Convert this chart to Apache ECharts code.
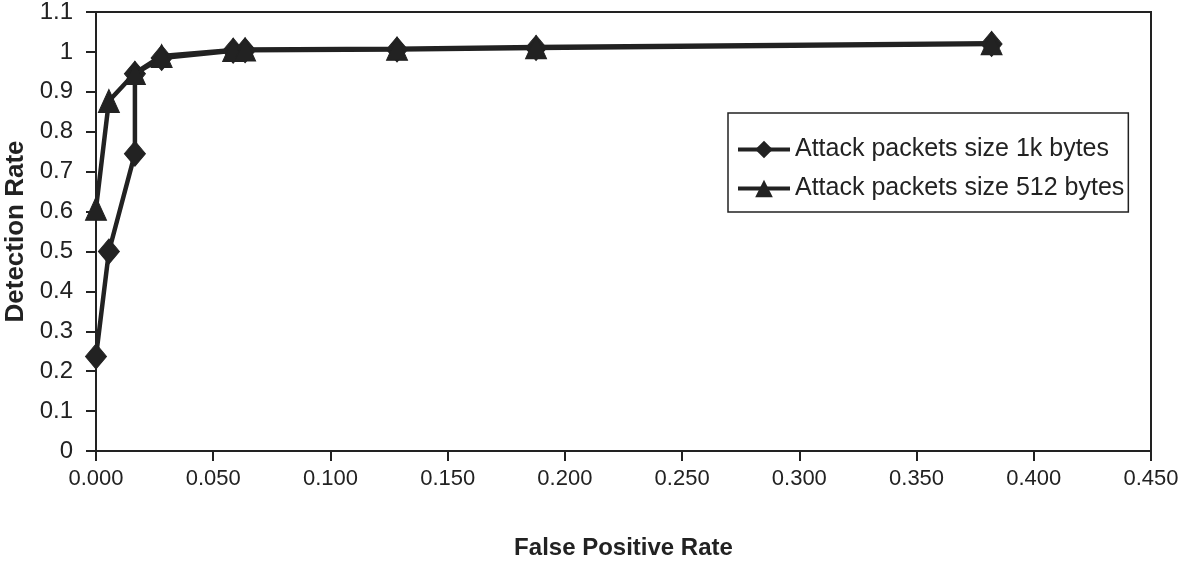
<!DOCTYPE html>
<html>
<head>
<meta charset="utf-8">
<script src="https://cdn.jsdelivr.net/npm/echarts@6/dist/echarts.min.js"></script>
<style>
html,body{margin:0;padding:0;background:#fff;}
#chart{width:1191px;height:563px;}
</style>
</head>
<body>
<div id="chart"></div>
<script>
// Data
const seriesNames = ['Attack packets size 1k bytes', 'Attack packets size 512 bytes'];
const fpr1k = [0.000, 0.0055, 0.0166, 0.0166, 0.028, 0.0585, 0.0636, 0.1284, 0.1877, 0.382];
const det1k = [0.237, 0.500, 0.745, 0.945, 0.985, 1.003, 1.004, 1.006, 1.010, 1.020];
const fpr512 = [0.000, 0.0055, 0.0166, 0.028, 0.0585, 0.0636, 0.1284, 0.1877, 0.382];
const det512 = [0.607, 0.877, 0.947, 0.990, 1.005, 1.006, 1.008, 1.012, 1.022];

const pairs = (xs, ys) => xs.map((x, i) => [x, ys[i]]);
const ink = '#222';

const chart = echarts.init(document.getElementById('chart'));
chart.setOption({
  animation: false,
  backgroundColor: '#fff',
  grid: {
    left: 96, right: 40, top: 12, bottom: 112,
    outerBoundsMode: 'none', containLabel: false,
    show: true, borderColor: ink, borderWidth: 2, backgroundColor: 'transparent'
  },
  legend: {
    left: 728, top: 113,
    orient: 'vertical',
    itemWidth: 52, itemHeight: 22, itemGap: 14,
    padding: [24, 4, 11, 8],
    borderColor: ink, borderWidth: 1.5,
    lineStyle: { width: 4, color: ink },
    textStyle: { fontFamily: 'Liberation Sans, Arial, sans-serif', fontSize: 25, color: ink },
    data: seriesNames
  },
  xAxis: {
    type: 'value', min: 0, max: 0.45, interval: 0.05,
    name: 'False Positive Rate', nameLocation: 'middle', nameGap: 85,
    nameTextStyle: { fontFamily: 'Liberation Sans, Arial, sans-serif', fontWeight: 'bold', fontSize: 24, color: ink },
    axisLine: { show: true, lineStyle: { color: ink, width: 2 } },
    axisTick: { show: true, length: 10, lineStyle: { color: ink, width: 2 } },
    axisLabel: {
      margin: 17, color: ink, fontSize: 22,
      fontFamily: 'Liberation Sans, Arial, sans-serif',
      formatter: v => v.toFixed(3)
    },
    splitLine: { show: false }
  },
  yAxis: {
    type: 'value', min: 0, max: 1.1, interval: 0.1,
    name: 'Detection Rate', nameLocation: 'middle', nameGap: 62, nameRotate: 90,
    nameTextStyle: { fontFamily: 'Liberation Sans, Arial, sans-serif', fontWeight: 'bold', fontSize: 26, color: ink },
    axisLine: { show: true, lineStyle: { color: ink, width: 2 } },
    axisTick: { show: true, length: 10, lineStyle: { color: ink, width: 2 } },
    axisLabel: {
      margin: 23, color: ink, fontSize: 24,
      fontFamily: 'Liberation Sans, Arial, sans-serif',
      formatter: v => String(Math.round(v * 10) / 10)
    },
    splitLine: { show: false }
  },
  series: [
    {
      name: seriesNames[0], type: 'line', data: pairs(fpr1k, det1k),
      symbol: 'diamond', symbolSize: [21, 25],
      lineStyle: { color: ink, width: 4.5 },
      itemStyle: { color: ink, borderColor: ink },
      z: 3
    },
    {
      name: seriesNames[1], type: 'line', data: pairs(fpr512, det512),
      symbol: 'triangle', symbolSize: [21, 23],
      lineStyle: { color: ink, width: 4.5 },
      itemStyle: { color: ink, borderColor: ink },
      z: 4
    }
  ]
});
</script>
</body>
</html>
